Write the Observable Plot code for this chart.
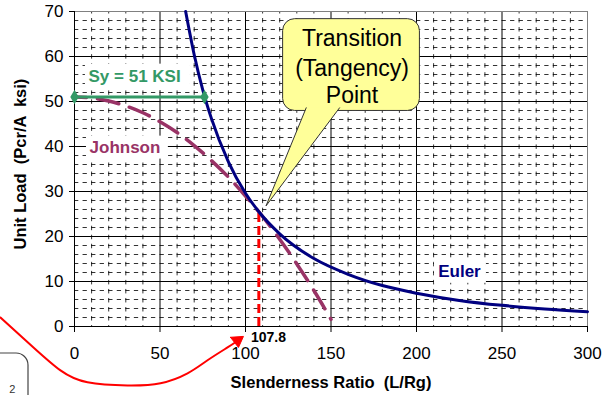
<!DOCTYPE html>
<html>
<head>
<meta charset="utf-8">
<script src="https://cdn.jsdelivr.net/npm/d3@7"></script>
<script src="https://cdn.jsdelivr.net/npm/@observablehq/plot@0.6"></script>
<style>
  html, body { margin: 0; padding: 0; background: #fff; }
  #chart { width: 603px; height: 395px; overflow: hidden; }
</style>
</head>
<body>
<div id="chart"></div>
<script>
// ---- Data ----
const eulerRatio = [65, 70, 75, 80, 90, 100, 107.8, 120, 140, 160, 180, 200, 225, 250, 275, 300];
const eulerLoad  = [70.0, 60.4, 52.6, 46.3, 36.6, 29.6, 25.5, 20.6, 15.1, 11.6, 9.1, 7.4, 5.8, 4.7, 3.9, 3.3];

const johnsonRatio = [0, 10, 20, 30, 40, 50, 60, 70, 80, 90, 100, 107.8, 120, 130, 140, 150];
const johnsonLoad  = [51.0, 50.8, 50.1, 49.0, 47.5, 45.5, 43.1, 40.2, 36.9, 33.2, 29.0, 25.5, 19.4, 13.9, 8.0, 1.6];

const yieldRatio = [0, 76];
const yieldLoad  = [51, 51];

const tangencyRatio = 107.8;
const tangencyLoad = 25.5;

const xTicks = [0, 50, 100, 150, 200, 250, 300];
const yTicks = [0, 10, 20, 30, 40, 50, 60, 70];
const xMinor = [10,20,30,40,60,70,80,90,110,120,130,140,160,170,180,190,210,220,230,240,260,270,280,290];
const yMinor = [2,4,6,8,12,14,16,18,22,24,26,28,32,34,36,38,42,44,46,48,52,54,56,58,62,64,66,68];
const xMajor = [50, 100, 150, 200, 250];
const yMajor = [10, 20, 30, 40, 50, 60];

const calloutLines = ["Transition", "(Tangency)", "Point"];
const calloutLineY = [64.0, 57.4, 51.2];

// series labels and their white label boxes (data space)
const labelText = ["Sy = 51 KSI", "Johnson", "Euler"];
const labelX = [8.2, 8.8, 212.7];
const labelY = [55.6, 39.7, 12.2];
const labelBoxX1 = [6.4, 7.0, 210.5];
const labelBoxX2 = [67.8, 54.9, 240.9];
const labelBoxY1 = [52.4, 37.2, 9.6];
const labelBoxY2 = [58.3, 42.3, 14.9];

// decorative annotations (data space)
const arrowX = [-43.3, -24.0, -8.2, 7.6, 31.0, 50.3, 66.1, 77.8, 89.5, 94.1];
const arrowY = [2.0, -4.65, -9.75, -12.4, -13.1, -12.6, -10.4, -7.5, -4.65, -3.5];
const arrowHeadX = [91.2, 98.8, 95.9, 91.2];
const arrowHeadY = [-2.4, -2.2, -4.65, -2.4];

const euler = eulerRatio.map((x, i) => ({x, y: eulerLoad[i]}));
const johnson = johnsonRatio.map((x, i) => ({x, y: johnsonLoad[i]}));
const yieldLine = yieldRatio.map((x, i) => ({x, y: yieldLoad[i]}));
const arrow = arrowX.map((x, i) => ({x, y: arrowY[i]}));
const arrowHead = arrowHeadX.map((x, i) => ({x, y: arrowHeadY[i]}));
const navy = "#000080", maroon = "#993366", green = "#339966";
const labels = labelText.map((t, i) => ({
  t, x: labelX[i], y: labelY[i],
  x1: labelBoxX1[i], x2: labelBoxX2[i], y1: labelBoxY1[i], y2: labelBoxY2[i],
  c: [green, maroon, navy][i]
}));

// callout box (data space)
const box = {x1: 122, x2: 202, y1: 47.9, y2: 68.3};
const tail = [{x: 135.5, y: 48.6}, {x: 112, y: 26.8}, {x: 155, y: 48.6}];

const chart = Plot.plot({
  width: 603,
  height: 395,
  marginLeft: 74,
  marginRight: 16,
  marginTop: 11,
  marginBottom: 69,
  x: {domain: [0, 300], label: null},
  y: {domain: [0, 70], label: null},
  style: {fontFamily: "'Liberation Sans', Arial, sans-serif", background: "#fff", color: "#000"},
  marks: [
    // minor dashed grid
    Plot.ruleY(yMinor, {stroke: "#000", strokeWidth: 1, strokeDasharray: "4.3,4.25", strokeOpacity: 0.8}),
    Plot.ruleX(xMinor, {stroke: "#000", strokeWidth: 1, strokeDasharray: "4.5,4.53", strokeDashoffset: 2, strokeOpacity: 0.8}),
    // major grid
    Plot.ruleY(yMajor, {stroke: "#000", strokeWidth: 1}),
    Plot.ruleX(xMajor, {stroke: "#000", strokeWidth: 1}),
    Plot.frame({stroke: "#808080"}),
    Plot.ruleX([0], {stroke: "#000"}),
    Plot.ruleY([0], {stroke: "#000"}),
    Plot.axisX({ticks: xTicks, tickSize: 6, tickPadding: 14, fontSize: 17, label: null}),
    Plot.axisY({ticks: yTicks, tickSize: 5, tickPadding: 6, fontSize: 17, label: null}),
    // white label boxes
    Plot.rect(labels, {x1: "x1", x2: "x2", y1: "y1", y2: "y2", fill: "#fff"}),
    // tangency vertical
    Plot.ruleX([tangencyRatio], {y1: 0, y2: tangencyLoad, stroke: "#ff0000", strokeWidth: 3, strokeDasharray: "9,4"}),
    // Johnson
    Plot.line(johnson, {x: "x", y: "y", stroke: maroon, strokeWidth: 3.5, strokeDasharray: "22,11", strokeDashoffset: 10, curve: "monotone-x"}),
    // Euler
    Plot.line(euler, {x: "x", y: "y", stroke: navy, strokeWidth: 3, curve: "monotone-x"}),
    // Yield
    Plot.line(yieldLine, {x: "x", y: "y", stroke: green, strokeWidth: 3}),
    Plot.dot(yieldLine, {x: "x", y: "y", symbol: "diamond", r: 3.5, fill: green, stroke: green}),
    // labels
    Plot.text(labels, {x: "x", y: "y", text: "t", fill: "c", textAnchor: "start", lineAnchor: "middle", fontSize: 17, fontWeight: "bold"}),
    Plot.text(["107.8"], {x: 113.4, y: -2.44, textAnchor: "middle", lineAnchor: "middle", fill: "#000", fontSize: 14, fontWeight: "bold"}),
    // callout
    Plot.rect([box], {x1: "x1", x2: "x2", y1: "y1", y2: "y2", rx: 12, ry: 12, fill: "#ffff99", stroke: "#333", strokeWidth: 1}),
    Plot.line(tail, {x: "x", y: "y", fill: "#ffff99", stroke: "none"}),
    Plot.line(tail, {x: "x", y: "y", stroke: "#333", strokeWidth: 1}),
    Plot.text(calloutLines, {x: 162.3, y: (d, i) => calloutLineY[i], textAnchor: "middle", lineAnchor: "middle", fontSize: 23, fill: "#000"}),
    // axis titles
    Plot.text(["Slenderness Ratio  (L/Rg)"], {frameAnchor: "bottom", dy: 56, lineAnchor: "middle", fontSize: 16.5, fontWeight: "bold", fill: "#000"}),
    Plot.text(["Unit Load  (Pcr/A  ksi)"], {x: -31.6, y: 36.1, rotate: -90, textAnchor: "middle", lineAnchor: "middle", fontSize: 16.5, fontWeight: "bold", fill: "#000"}),
    // decorative red arrow
    Plot.line(arrow, {x: "x", y: "y", stroke: "#ff0000", strokeWidth: 2, curve: "natural"}),
    Plot.line(arrowHead, {x: "x", y: "y", fill: "#ff0000", stroke: "#ff0000", strokeWidth: 1}),
    // partial neighbouring shape
    Plot.rect([{x1: -70, x2: -26.9, y1: -25, y2: -6.0}], {x1: "x1", x2: "x2", y1: "y1", y2: "y2", rx: 12, ry: 12, fill: "none", stroke: "#444", strokeWidth: 1.2}),
    Plot.text(["2"], {x: -36.3, y: -14.1, fontSize: 11, fill: "#333"})
  ]
});
document.getElementById("chart").appendChild(chart);
</script>
</body>
</html>
